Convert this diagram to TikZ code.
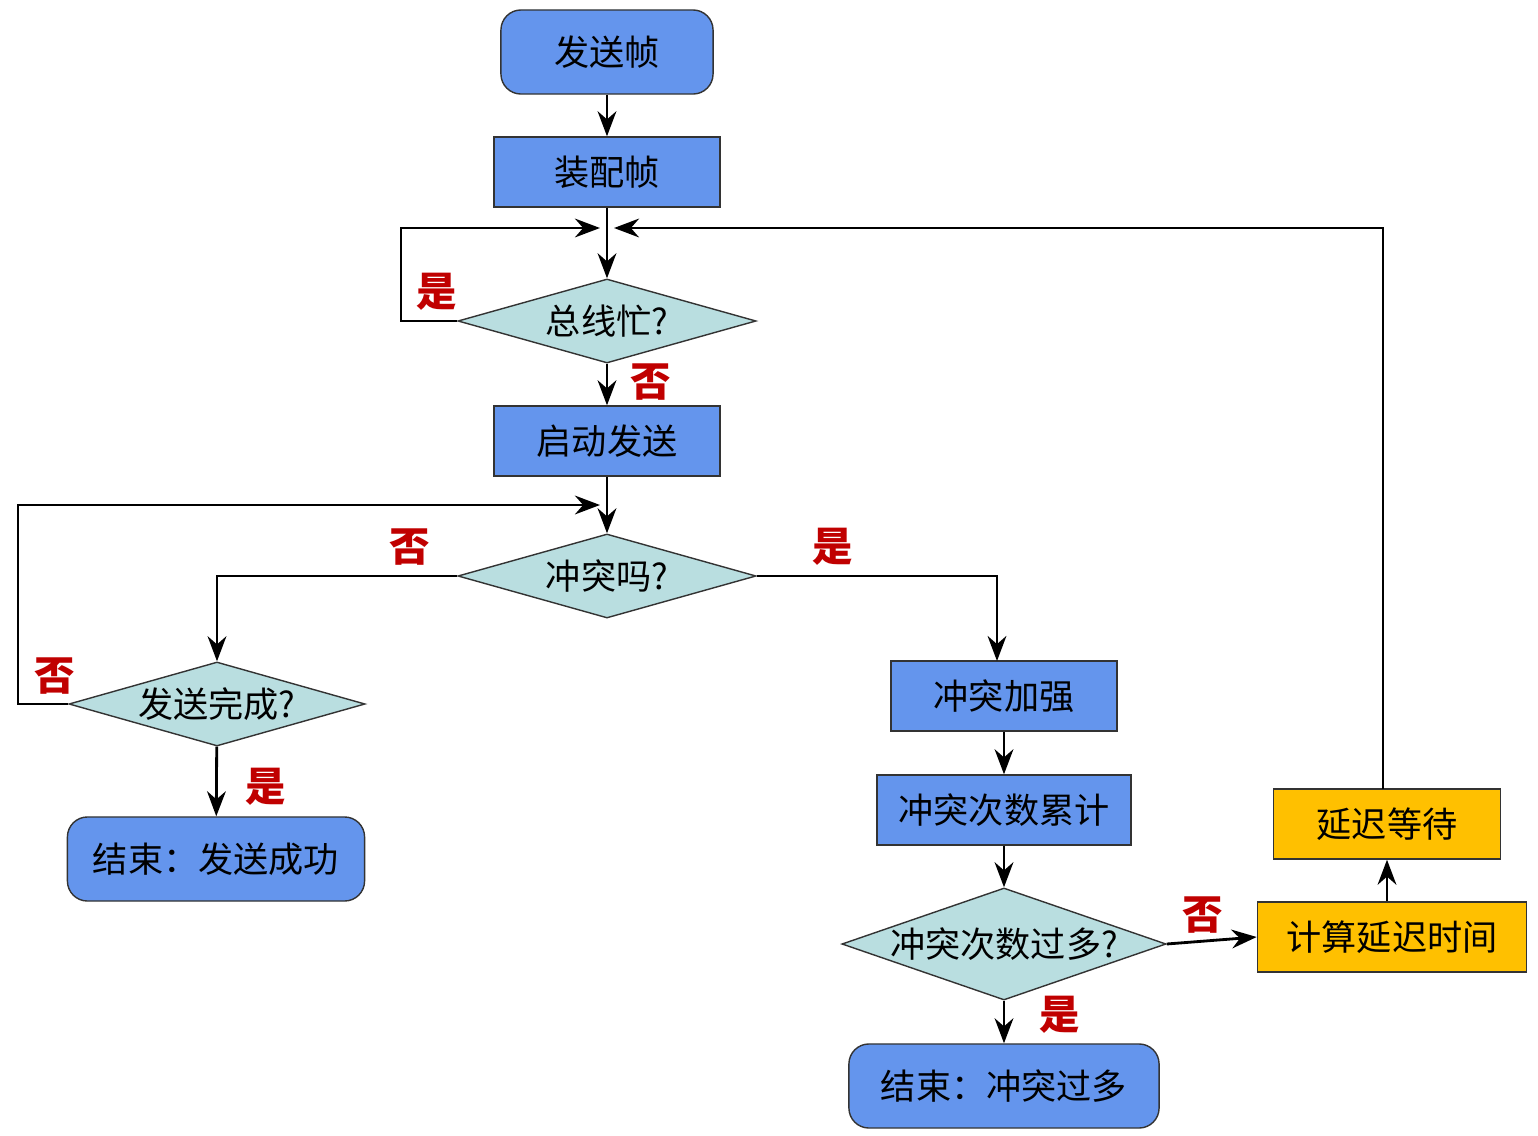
\documentclass[tikz,border=0pt]{standalone}
\usepackage{fontspec}
\setmainfont{Noto Sans CJK SC}
\usetikzlibrary{arrows.meta,shapes.geometric,positioning}
\definecolor{boxblue}{HTML}{6495ED}
\definecolor{decfill}{HTML}{B9DEE0}
\definecolor{waitbox}{HTML}{FFC000}
\definecolor{labred}{HTML}{C00000}
\tikzset{
    % plain step
    procbox/.style={
    rectangle,
    draw=black!80,
    fill=boxblue,
    minimum height=7mm,
    font=\fontsize{10}{12}\selectfont,
    },
    % start / end
    term/.style={
    procbox,
    rounded corners=2mm,
    minimum height=8.4mm,
    },
    % delay steps
    delay/.style={
    procbox,
    fill=waitbox,
    },
    % decision, text as label so it may run over the corners
    decide/.style={
    diamond,
    draw=black!80,
    fill=decfill,
    inner sep=0pt,
    minimum height=8.4mm,
    },
    answer/.style={
    font=\bfseries\fontsize{11.5}{13}\selectfont,
    text=labred,
    },
    flow/.style={thick,-{Stealth[length=2.5mm]}},
}
\begin{document}
\begin{tikzpicture}[x=0.01cm,y=-0.01cm]
    \useasboundingbox (0,0) rectangle (1538,1136);
    \node (send)    [term,minimum width=21.2mm]  at (607,52)  {发送帧};
    \node (build)   [procbox,minimum width=22.6mm]  at (607,172) {装配帧};
    \coordinate (top) at (607,228);
    \node (busy)    [decide,minimum width=29.8mm,label=center:\fontsize{10}{12}\selectfont 总线忙?] at (607,321) {};
    \node (start)   [procbox,minimum width=22.6mm]  at (607,441) {启动发送};
    \coordinate (mid) at (607,505);
    \node (clash)   [decide,minimum width=29.8mm,label=center:\fontsize{10}{12}\selectfont 冲突吗?] at (607,576) {};
    \node (done)    [decide,minimum width=29.6mm,label=center:\fontsize{10}{12}\selectfont 发送完成?] at (217,704) {};
    \node (ok)      [term,minimum width=29.7mm]  at (216,859) {结束：发送成功};
    \node (jam)     [procbox,minimum width=22.6mm]  at (1004,696) {冲突加强};
    \node (count)   [procbox,minimum width=25.4mm]  at (1004,810) {冲突次数累计};
    \node (many)    [decide,minimum width=32.4mm,minimum height=11.2mm,label=center:\fontsize{10}{12}\selectfont 冲突次数过多?] at (1004,944) {};
    \node (fail)    [term,minimum width=31mm]    at (1004,1086) {结束：冲突过多};
    \node (calc)    [delay,minimum width=26.9mm] at (1392,937) {计算延迟时间};
    \node (wait)    [delay,minimum width=22.7mm] at (1387,824) {延迟等待};

    \draw[flow] (send) -- (build);
    \draw[thick] (build) -- (top);
    \draw[flow] (top) -- (busy);
    \draw[flow] (busy.west) -- (401,321) |- ([xshift=-0.07cm]top);
    \draw[flow] (busy) -- (start);
    \draw[thick] (start) -- (mid);
    \draw[flow] (mid) -- (clash);
    \draw[flow] (clash.west) -| (done.north);
    \draw[flow] (clash.east) -| (997,661);
    \draw[flow] (done.west) -- (18,704) |- ([xshift=-0.07cm]mid);
    \draw[flow] (done) -- (ok);
    \draw[flow] (jam) -- (count);
    \draw[flow] (count) -- (many);
    \draw[flow] (many) -- (fail);
    \draw[flow] (many.east) -- (calc.west);
    \draw[flow] (calc.north -| wait) -- (wait.south);
    \draw[flow] (1383,789) |- ([xshift=0.07cm]top);

    \node[answer] at (437,292)  {是};
    \node[answer] at (651,382)  {否};
    \node[answer] at (410,547)  {否};
    \node[answer] at (833,547)  {是};
    \node[answer] at (55,676)   {否};
    \node[answer] at (266,787)  {是};
    \node[answer] at (1060,1015) {是};
    \node[answer] at (1203,915) {否};
\end{tikzpicture}
\end{document}
